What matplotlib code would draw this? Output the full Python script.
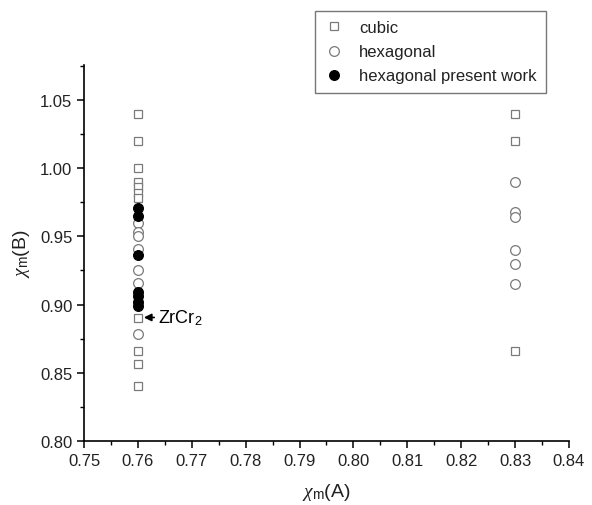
import matplotlib
matplotlib.use("Agg")
import matplotlib.pyplot as plt
from matplotlib.ticker import MultipleLocator, FormatStrFormatter

plt.rcParams['font.family'] = ['Liberation Sans', 'DejaVu Sans']
plt.rcParams['mathtext.fontset'] = 'custom'
plt.rcParams['mathtext.rm'] = 'Liberation Sans'
plt.rcParams['mathtext.it'] = 'Liberation Serif:italic'

# Data
cubic_x = [0.76] * 11 + [0.83] * 3
cubic_y = [1.040, 1.020, 1.000, 0.990, 0.986, 0.982, 0.978, 0.890, 0.866, 0.856, 0.840,
           1.040, 1.020, 0.866]
hex_x = [0.76] * 7 + [0.83] * 6
hex_y = [0.960, 0.953, 0.950, 0.941, 0.925, 0.916, 0.878,
         0.990, 0.968, 0.964, 0.940, 0.930, 0.915]
hexp_x = [0.76] * 7
hexp_y = [0.971, 0.965, 0.936, 0.909, 0.906, 0.902, 0.899]

fig = plt.figure(figsize=(5.92, 5.06), dpi=100)
ax = fig.add_axes([0.142, 0.127, 0.819, 0.743])

ax.plot(cubic_x, cubic_y, linestyle='none', marker='s', markersize=5.8,
        markerfacecolor='white', markeredgecolor='#7a7a7a', markeredgewidth=0.9,
        label='cubic')
ax.plot(hex_x, hex_y, linestyle='none', marker='o', markersize=7,
        markerfacecolor='white', markeredgecolor='#7a7a7a', markeredgewidth=0.9,
        label='hexagonal')
ax.plot(hexp_x, hexp_y, linestyle='none', marker='o', markersize=7,
        markerfacecolor='black', markeredgecolor='black', markeredgewidth=0.9,
        label='hexagonal present work')

ax.annotate('ZrCr$_2$', xy=(0.7611, 0.8905), xytext=(0.7638, 0.8905),
            fontsize=13, va='center', ha='left',
            arrowprops=dict(arrowstyle='-|>', color='black', lw=1.2,
                            mutation_scale=11, shrinkA=1, shrinkB=0))

ax.set_xlim(0.75, 0.84)
ax.set_ylim(0.80, 1.076)
ax.xaxis.set_major_locator(MultipleLocator(0.01))
ax.xaxis.set_minor_locator(MultipleLocator(0.005))
ax.yaxis.set_major_locator(MultipleLocator(0.05))
ax.yaxis.set_minor_locator(MultipleLocator(0.025))
ax.xaxis.set_major_formatter(FormatStrFormatter('%.2f'))
ax.yaxis.set_major_formatter(FormatStrFormatter('%.2f'))

for s in ['top', 'right']:
    ax.spines[s].set_visible(False)
for s in ['left', 'bottom']:
    ax.spines[s].set_linewidth(1.2)
ax.tick_params(which='major', direction='out', length=5, width=1.1, labelsize=12,
               colors='black', labelcolor='#222222')
ax.tick_params(which='minor', direction='out', length=3, width=1.0)

ax.set_xlabel(r'$\chi_{\rm m}$(A)', fontsize=14, labelpad=10, color='#222222')
ax.set_ylabel(r'$\chi_{\rm m}$(B)', fontsize=14, labelpad=6, color='#222222')

leg = fig.legend(loc='upper left', bbox_to_anchor=(315 / 592, 1 - 12 / 506),
                 fontsize=12, frameon=True, fancybox=False, edgecolor='#555555',
                 borderpad=0.55, labelspacing=0.55, handletextpad=0.9, handlelength=1.2,
                 borderaxespad=0)
leg.get_frame().set_linewidth(1.0)
for t in leg.get_texts():
    t.set_color('#222222')

fig.savefig('out.png', dpi=100, facecolor='white')
